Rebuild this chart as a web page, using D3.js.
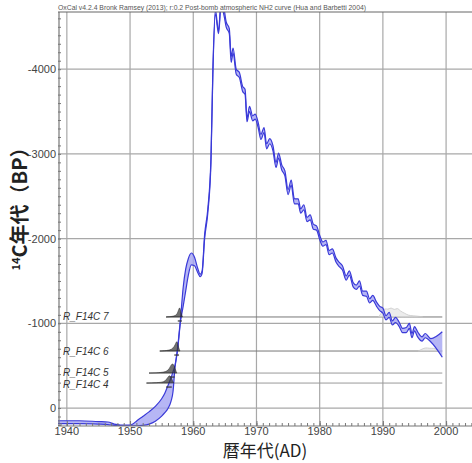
<!DOCTYPE html>
<html>
<head>
<meta charset="utf-8">
<script src="https://cdn.jsdelivr.net/npm/d3@7"></script>
<style>
  body { margin: 0; background: #fff; }
  svg { display: block; }
</style>
</head>
<body>
<svg id="chart_svg" width="472" height="463"></svg>
<script>
// calibration curve (year AD, upper edge BP, lower edge BP)
var calYears = [1938.6, 1942, 1945, 1946.5, 1947.5, 1948.5, 1950, 1950.5, 1951, 1952, 1953, 1954, 1955, 1955.5, 1956, 1956.5, 1956.8,
  1957.1, 1957.5, 1958.0, 1958.4, 1958.8, 1959.2, 1959.7, 1960.2, 1960.7, 1961.1, 1961.4, 1961.8, 1962.3, 1962.8, 1963.1, 1963.5,
  1964.0, 1964.4, 1964.9, 1965.2, 1965.7, 1966.0, 1966.3, 1966.8, 1967.3, 1967.8, 1968.2, 1968.5, 1968.9, 1969.4, 1969.8,
  1970.3, 1970.7, 1971.2, 1971.6, 1972.1, 1972.6, 1973.1, 1973.5, 1974.0, 1974.5, 1975.0, 1975.5, 1976.0, 1976.6, 1977.0,
  1977.5, 1978.0, 1978.5, 1979.0, 1979.5, 1980.0, 1980.5, 1981.0, 1981.5, 1982.0, 1982.6, 1983.1, 1983.6, 1984.2, 1984.7,
  1985.3, 1985.8, 1986.3, 1986.8, 1987.4, 1987.9, 1988.4, 1989.0, 1989.5, 1990.0, 1990.5, 1991.0, 1991.5, 1992.0, 1992.6,
  1993.1, 1993.7, 1994.2, 1994.6, 1995.0, 1995.5, 1996.2, 1996.7, 1997.6, 1999.4];
var calUpper = [150, 150, 160, 165, 190, 200, 200, 185, 155, 100, 45, -20, -110, -175, -265, -360, -430,
  -500, -700, -1070, -1420, -1640, -1760, -1830, -1780, -1650, -1580, -1620, -2050, -2350, -2950, -3990, -4700,
  -4450, -4800, -4700, -4560, -4480, -4150, -4250, -4000, -3960, -3800, -3760, -3420, -3560, -3450, -3470,
  -3360, -3230, -3310, -3120, -3180, -3100, -2900, -3010, -2870, -2800, -2580, -2690, -2470, -2470, -2350,
  -2400, -2250, -2280, -2170, -2150, -2040, -1960, -1980, -1860, -1880, -1770, -1720, -1680, -1560, -1620,
  -1480, -1450, -1500, -1380, -1380, -1290, -1330, -1250, -1200, -1180, -1090, -1130, -1030, -1070, -1010,
  -940, -950, -1000, -880, -960, -900, -840, -880, -820, -900];
var calLower = [185, 185, 190, 195, 205, 210, 210, 210, 210, 205, 190, 155, 95, 55, 5, -85, -195,
  -470, -670, -1030, -1200, -1380, -1560, -1690, -1680, -1600, -1550, -1590, -2000, -2300, -2900, -3940, -4650,
  -4420, -4750, -4620, -4500, -4420, -4080, -4190, -3940, -3900, -3740, -3700, -3380, -3500, -3390, -3410,
  -3300, -3170, -3250, -3060, -3120, -3040, -2840, -2950, -2810, -2740, -2520, -2630, -2410, -2410, -2300,
  -2340, -2200, -2220, -2110, -2100, -1990, -1910, -1930, -1810, -1830, -1720, -1670, -1630, -1510, -1570,
  -1430, -1400, -1440, -1330, -1320, -1240, -1270, -1200, -1150, -1120, -1040, -1070, -980, -1010, -960,
  -890, -890, -940, -830, -910, -840, -790, -830, -780, -600];

// sample measurements
var sampleNames = ["R_F14C 7", "R_F14C 6", "R_F14C 5", "R_F14C 4"];
var sampleBP = [-1075, -673, -413, -295];
var sampleStart = [1955.7, 1954.7, 1953.0, 1952.6];
var sampleEnd = 1999.4;
var labelShift = [0, 0, -1, 1];

// posterior distributions (year, relative density)
var postYears = [
  [1955.7, 1956.5, 1957.2, 1957.5, 1957.7, 1957.85, 1958.0, 1958.15, 1958.3],
  [1954.7, 1955.8, 1956.6, 1957.0, 1957.25, 1957.4, 1957.55, 1957.7, 1957.9],
  [1953.0, 1954.5, 1955.7, 1956.2, 1956.5, 1956.8, 1957.0, 1957.2, 1957.4],
  [1952.6, 1954.2, 1955.4, 1955.8, 1956.1, 1956.3, 1956.5, 1956.7, 1956.9]
];
var postDens = [
  [0, 0.04, 0.12, 0.35, 0.75, 1.0, 0.6, 0.25, 0],
  [0, 0.04, 0.15, 0.45, 0.8, 1.0, 0.7, 0.3, 0],
  [0, 0.03, 0.12, 0.4, 0.85, 0.95, 0.7, 0.3, 0],
  [0, 0.03, 0.1, 0.4, 0.7, 0.75, 0.55, 0.25, 0]
];
// 95% ranges drawn beneath each sample
var rangeStart = [1957.55, 1957.0, 1956.3, 1955.7];
var rangeEnd = [1958.2, 1957.75, 1957.05, 1956.6];

// likelihood (unmodelled) distributions, faint grey
var likeYears = [
  [1989.3, 1989.9, 1990.3, 1990.8, 1991.3, 1991.8, 1992.3, 1992.8, 1993.4, 1994.0, 1994.8, 1995.6, 1996.3],
  [1995.6, 1996.2, 1996.8, 1997.4, 1998.0, 1998.6, 1999.3]
];
var likeDens = [
  [0, 0.5, 0.9, 0.7, 1.0, 0.65, 0.95, 0.55, 0.4, 0.15, 0.12, 0.08, 0],
  [0, 0.2, 0.35, 0.25, 0.3, 0.15, 0]
];

var xTicks = [1940, 1950, 1960, 1970, 1980, 1990, 2000];
var yTicks = [-4000, -3000, -2000, -1000, 0];

var margin = {left: 58, right: 472, top: 12, bottom: 426};

var base = d3.select('#chart_svg');

var x = d3.scaleLinear().domain([1938.6, 2004.1]).range([margin.left, margin.right]);
var y = d3.scaleLinear().domain([212, -4675]).range([margin.bottom, margin.top]);
var dens = d3.scaleLinear().domain([0, 1]).range([0, 10]);

base.append("defs").append("clipPath")
    .attr("id", "plot-clip")
  .append("rect")
    .attr("x", margin.left)
    .attr("y", margin.top)
    .attr("width", margin.right - margin.left)
    .attr("height", margin.bottom - margin.top);

// grid
var gridGroup = base.append("g").attr("id", "grid-group");
gridGroup.selectAll("line.vgrid")
    .data(xTicks)
  .enter().append("line")
    .attr("class", "vgrid")
    .attr("x1", function(d) { return x(d); })
    .attr("x2", function(d) { return x(d); })
    .attr("y1", margin.top)
    .attr("y2", margin.bottom)
    .attr("stroke", "#a8a8a8")
    .attr("stroke-width", 1.2);
gridGroup.selectAll("line.hgrid")
    .data(yTicks)
  .enter().append("line")
    .attr("class", "hgrid")
    .attr("x1", margin.left)
    .attr("x2", margin.right)
    .attr("y1", function(d) { return y(d); })
    .attr("y2", function(d) { return y(d); })
    .attr("stroke", "#a8a8a8")
    .attr("stroke-width", 1.2);

// sample lines + labels
var sampleGroup = base.append("g").attr("id", "sample-group").attr("clip-path", "url(#plot-clip)");
sampleNames.forEach(function(name, i) {
    sampleGroup.append("line")
        .attr("x1", x(sampleStart[i]))
        .attr("x2", x(sampleEnd))
        .attr("y1", y(sampleBP[i]))
        .attr("y2", y(sampleBP[i]))
        .attr("stroke", i < 2 ? "#777" : "#999")
        .attr("stroke-width", 1);
    base.append("text")
        .text(name)
        .attr("x", 63)
        .attr("y", y(sampleBP[i]) + labelShift[i])
        .attr("dominant-baseline", "central")
        .attr("font-family", "Liberation Sans, Arial, sans-serif")
        .attr("font-style", "italic")
        .attr("font-size", "10px")
        .attr("fill", "#333");
});

// faint likelihoods
var likeArea = d3.area()
    .curve(d3.curveBasis);
likeYears.forEach(function(yrs, i) {
    var bp = sampleBP[i];
    sampleGroup.append("path")
        .datum(yrs.map(function(d, j) { return [d, likeDens[i][j]]; }))
        .attr("d", likeArea
            .x(function(d) { return x(d[0]); })
            .y0(y(bp))
            .y1(function(d) { return y(bp) - dens(d[1]); }))
        .attr("fill", "#e4e4e4")
        .attr("fill-opacity", 0.7)
        .attr("stroke", "#c8c8c8")
        .attr("stroke-width", 0.8);
});

// calibration curve band
var curveGroup = base.append("g").attr("id", "curve-group").attr("clip-path", "url(#plot-clip)");
var calData = calYears.map(function(d, i) { return {yr: d, hi: calUpper[i], lo: calLower[i]}; });
curveGroup.append("path")
    .datum(calData)
    .attr("d", d3.area()
        .x(function(d) { return x(d.yr); })
        .y0(function(d) { return y(d.lo); })
        .y1(function(d) { return y(d.hi); })
        .curve(d3.curveMonotoneX))
    .attr("fill", "#a4a4f2")
    .attr("fill-opacity", 0.8);
["hi", "lo"].forEach(function(key) {
    curveGroup.append("path")
        .datum(calData)
        .attr("d", d3.line()
            .x(function(d) { return x(d.yr); })
            .y(function(d) { return y(d[key]); })
            .curve(d3.curveMonotoneX))
        .attr("fill", "none")
        .attr("stroke", "#3a3ad8")
        .attr("stroke-width", 1.2);
});

// posterior distributions
var postArea = d3.area().curve(d3.curveBasis);
postYears.forEach(function(yrs, i) {
    var bp = sampleBP[i];
    curveGroup.append("path")
        .datum(yrs.map(function(d, j) { return [d, postDens[i][j]]; }))
        .attr("d", postArea
            .x(function(d) { return x(d[0]); })
            .y0(y(bp))
            .y1(function(d) { return y(bp) - dens(d[1]); }))
        .attr("fill", "#333")
        .attr("fill-opacity", 0.7)
        .attr("stroke", "#222")
        .attr("stroke-width", 0.5);
    curveGroup.append("line")
        .attr("x1", x(rangeStart[i]))
        .attr("x2", x(rangeEnd[i]))
        .attr("y1", y(bp) + 4)
        .attr("y2", y(bp) + 4)
        .attr("stroke", "#333")
        .attr("stroke-width", 1.2);
});

// axes
var axisGroup = base.append("g").attr("id", "axis-group");
axisGroup.append("g")
    .attr("transform", "translate(0," + margin.bottom + ")")
    .call(d3.axisTop(x).tickValues(d3.range(1939, 2005, 1)).tickSize(3).tickFormat(""));
axisGroup.append("g")
    .attr("transform", "translate(0," + margin.bottom + ")")
    .call(d3.axisTop(x).tickValues(xTicks).tickSize(5).tickFormat(""));
axisGroup.append("g")
    .attr("transform", "translate(" + margin.left + ",0)")
    .call(d3.axisRight(y).tickValues(d3.range(200, -4700, -100)).tickSize(3).tickFormat(""));
axisGroup.selectAll("path.domain").remove();
axisGroup.selectAll("line").attr("stroke", "#777");

axisGroup.append("line")
    .attr("x1", margin.left).attr("x2", margin.right)
    .attr("y1", margin.bottom).attr("y2", margin.bottom)
    .attr("stroke", "#777").attr("stroke-width", 1.2);
axisGroup.append("line")
    .attr("x1", margin.left + 1).attr("x2", margin.left + 1)
    .attr("y1", margin.top).attr("y2", margin.bottom)
    .attr("stroke", "#777").attr("stroke-width", 1.2);
axisGroup.append("line")
    .attr("x1", margin.left).attr("x2", margin.right)
    .attr("y1", margin.top).attr("y2", margin.top)
    .attr("stroke", "#666").attr("stroke-width", 1);

axisGroup.selectAll("text.xlab")
    .data(xTicks)
  .enter().append("text")
    .attr("class", "xlab")
    .text(function(d) { return d; })
    .attr("x", function(d) { return x(d); })
    .attr("y", 435)
    .attr("text-anchor", "middle")
    .attr("font-family", "Liberation Sans, Arial, sans-serif")
    .attr("font-size", "11px")
    .attr("fill", "#444");
axisGroup.selectAll("text.ylab")
    .data(yTicks)
  .enter().append("text")
    .attr("class", "ylab")
    .text(function(d) { return d; })
    .attr("x", 56)
    .attr("y", function(d) { return y(d); })
    .attr("text-anchor", "end")
    .attr("dominant-baseline", "central")
    .attr("font-family", "Liberation Sans, Arial, sans-serif")
    .attr("font-size", "11px")
    .attr("fill", "#444");

// title
base.append("text")
    .text("OxCal v4.2.4 Bronk Ramsey (2013); r:0.2 Post-bomb atmospheric NH2 curve (Hua and Barbetti 2004)")
    .attr("x", 58)
    .attr("y", 9.5)
    .attr("textLength", 308)
    .attr("lengthAdjust", "spacingAndGlyphs")
    .attr("font-family", "Liberation Sans, Arial, sans-serif")
    .attr("font-size", "7px")
    .attr("fill", "#555");

// axis titles
base.append("text")
    .text("暦年代(AD)")
    .attr("x", 265)
    .attr("y", 457)
    .attr("text-anchor", "middle")
    .attr("font-family", "Noto Sans CJK JP, sans-serif")
    .attr("font-size", "17px")
    .attr("fill", "#222");

var yTitle = base.append("text")
    .attr("transform", "translate(27,204) rotate(-90)")
    .attr("text-anchor", "middle")
    .attr("font-family", "Noto Sans CJK JP, sans-serif")
    .attr("font-size", "20px")
    .attr("font-weight", "bold")
    .attr("fill", "#222");
yTitle.append("tspan").text("14").attr("font-size", "11px").attr("dy", "-7");
yTitle.append("tspan").text("C年代（BP）").attr("dy", "7");
</script>
</body>
</html>
